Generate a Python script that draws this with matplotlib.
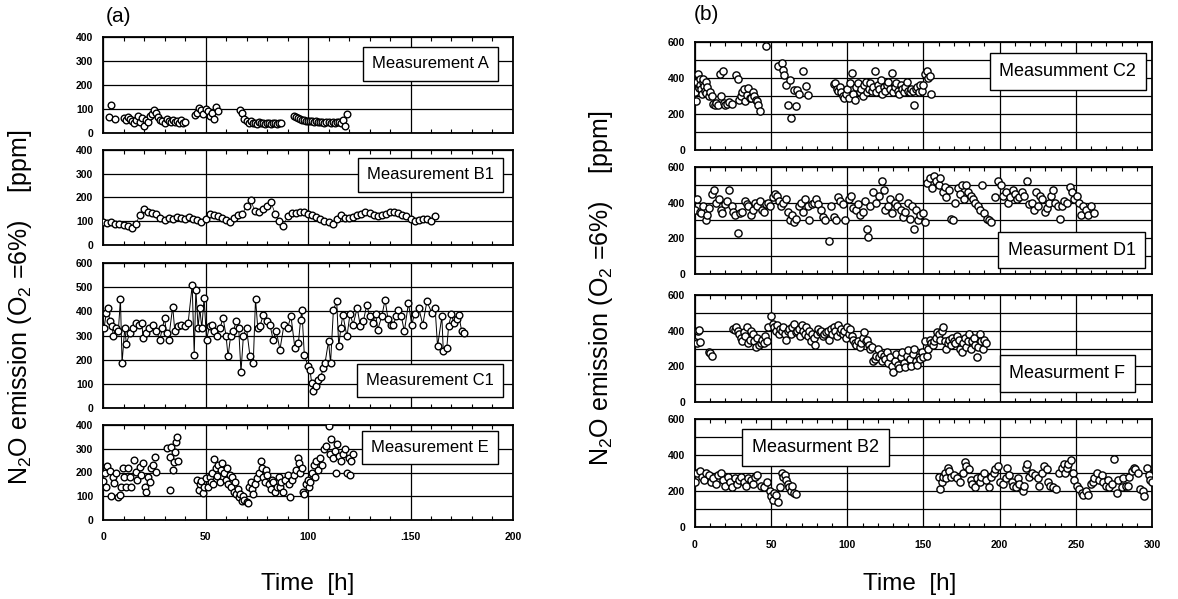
import matplotlib.pyplot as plt
from matplotlib.ticker import MultipleLocator

plt.rcParams['font.family'] = ['Liberation Sans', 'DejaVu Sans']
plt.rcParams['mathtext.fontset'] = 'custom'
plt.rcParams['mathtext.rm'] = 'Liberation Sans'
plt.rcParams['mathtext.default'] = 'regular'

# ---------------- panel (a) data: time [h], N2O [ppm] ----------------
a_t = [3, 4, 6, 10, 11, 12, 13, 14, 15, 16,
       17, 18, 19, 20, 21, 22, 23, 24, 25, 26,
       27, 28, 29, 30, 31, 32, 33, 34, 35, 36,
       37, 38, 39, 40, 45, 46, 47, 48, 49, 50,
       51, 52, 53, 54, 55, 56, 67, 68, 69, 70,
       71, 72, 73, 74, 75, 76, 77, 78, 79, 80,
       81, 82, 83, 84, 85, 86, 87, 93, 94, 95,
       96, 97, 98, 99, 100, 101, 102, 103, 104, 105,
       106, 107, 108, 109, 110, 111, 112, 113, 114, 115,
       116, 117, 118, 119]
a_v = [65, 115, 58, 62, 55, 68, 60, 50, 40, 55,
       72, 45, 62, 28, 55, 45, 70, 80, 95, 85,
       65, 55, 48, 42, 60, 50, 45, 55, 45, 50,
       40, 55, 42, 45, 75, 85, 105, 95, 80, 100,
       90, 70, 85, 60, 110, 90, 95, 82, 60, 48,
       42, 50, 40, 42, 38, 45, 40, 42, 38, 40,
       42, 38, 40, 42, 38, 40, 42, 70, 65, 62,
       60, 55, 55, 52, 50, 48, 50, 45, 48, 45,
       44, 46, 43, 45, 44, 42, 45, 43, 44, 45,
       40, 55, 28, 80]

b1_t = [0, 2, 4, 6, 8, 10, 12, 14, 16, 18,
        20, 22, 24, 26, 28, 30, 32, 34, 36, 38,
        40, 42, 44, 46, 48, 50, 52, 54, 56, 58,
        60, 62, 64, 66, 68, 70, 72, 74, 76, 78,
        80, 82, 84, 86, 88, 90, 92, 94, 96, 98,
        100, 102, 104, 106, 108, 110, 112, 114, 116, 118,
        120, 122, 124, 126, 128, 130, 132, 134, 136, 138,
        140, 142, 144, 146, 148, 150, 152, 154, 156, 158,
        160, 162]
b1_v = [95, 92, 95, 90, 88, 85, 78, 72, 90, 125,
        150, 140, 135, 130, 115, 105, 115, 110, 118, 112,
        108, 118, 110, 105, 95, 110, 130, 128, 120, 115,
        105, 98, 112, 125, 130, 165, 190, 145, 140, 150,
        165, 180, 130, 100, 80, 120, 135, 135, 138, 140,
        130, 125, 118, 110, 100, 95, 88, 110, 125, 115,
        112, 118, 125, 130, 140, 135, 125, 120, 125, 130,
        138, 140, 135, 128, 120, 110, 102, 105, 110, 108,
        100, 120]

c1_t = [0.5, 1.6, 2.4, 3.3, 4.4, 5, 6.5, 7.5, 8.5, 9.3,
        10.6, 11.4, 13, 14.5, 16, 17.5, 19, 19.5, 21, 22.5,
        24.4, 26, 27.7, 29, 30, 31, 32, 34, 35, 36.5,
        38, 40, 41.5, 43.5, 44.5, 45.3, 46.4, 47.2, 48.2, 49.3,
        50.5, 52, 53, 54.2, 55.4, 57, 58.6, 60, 61, 62.3,
        63.5, 65, 66.2, 67.3, 68.5, 70, 71.7, 73.3, 74.4, 75.5,
        76.5, 78.2, 79.8, 81.4, 83, 84.5, 86.3, 88.3, 90, 91.7,
        93.6, 95.3, 96.4, 97, 98.2, 100, 101, 101.8, 102.6, 104,
        105, 106.2, 107.5, 108.3, 110, 111, 112.4, 114, 115, 116,
        117, 119, 120.5, 122, 124, 125.5, 127, 128.7, 130, 131.5,
        133, 134, 136, 137.6, 139, 140.5, 141.7, 143, 144, 145.5,
        147, 149, 150.6, 152, 154, 156, 158, 160.4, 162, 163.2,
        165.3, 166, 167.7, 168.6, 170, 171, 172.5, 173.5, 175, 176]
c1_v = [330, 393, 414, 359, 338, 300, 331, 320, 452, 186,
        330, 266, 310, 330, 350, 345, 350, 290, 310, 330,
        345, 320, 283, 330, 372, 310, 283, 420, 320, 340,
        345, 340, 350, 508, 220, 490, 331, 414, 330, 455,
        283, 340, 345, 320, 296, 330, 372, 300, 214, 300,
        317, 359, 330, 149, 300, 331, 214, 186, 452, 330,
        338, 386, 360, 345, 283, 320, 241, 345, 330, 380,
        248, 269, 365, 407, 221, 172, 156, 103, 69, 90,
        117, 130, 165, 186, 276, 186, 407, 441, 255, 330,
        386, 296, 390, 345, 414, 340, 360, 428, 380, 350,
        390, 324, 380, 448, 370, 345, 345, 380, 407, 380,
        317, 434, 345, 390, 414, 345, 441, 393, 414, 255,
        379, 234, 248, 340, 390, 352, 370, 386, 317, 310]

e_t = [0, 0.8, 1.6, 2.1, 3.3, 3.7, 4.9, 5.4, 6.5, 7.3,
       8.1, 8.6, 9.8, 10.3, 11.1, 12.2, 13, 13.8, 15, 16,
       16.8, 17.9, 18.7, 19.5, 20.4, 21.2, 22, 22.8, 23.6, 24.4,
       25.2, 26, 31, 32.7, 32.6, 33.4, 34, 34.7, 35.2, 35.6,
       36.2, 36.6, 46, 47, 47.5, 48, 49, 49.5, 50, 51,
       52, 52.5, 53, 53.5, 54, 55, 55.5, 56, 57, 57.5,
       58, 59, 60, 60.5, 61, 62, 62.5, 63, 64, 64.5,
       65, 66, 66.5, 67, 68, 68.5, 69, 70, 70.5, 71,
       72, 72.5, 73, 74, 75, 76, 77, 77.5, 78, 79,
       79.5, 80, 81, 82, 82.5, 83, 84, 85, 86, 86.5,
       87, 88, 89, 90, 90.5, 91, 92, 93, 94, 95,
       95.5, 96, 97, 97.5, 98, 99, 100, 100.5, 101, 102,
       103, 103.5, 104, 105, 106, 107, 108, 109, 110, 110.5,
       111, 112, 113, 113.5, 114, 115, 116, 117, 118, 119,
       120, 120.5, 121, 122]
e_v = [165, 196, 140, 229, 206, 101, 182, 154, 196, 95,
       105, 138, 218, 182, 140, 218, 182, 140, 253, 204,
       168, 225, 189, 239, 140, 119, 182, 161, 218, 232,
       267, 204, 302, 126, 267, 309, 210, 246, 288, 330,
       351, 250, 170, 125, 150, 165, 115, 140, 175, 140,
       180, 160, 200, 150, 255, 220, 185, 230, 160, 210,
       240, 200, 170, 220, 150, 190, 140, 180, 120, 160,
       110, 130, 95, 110, 80, 100, 85, 75, 70, 140,
       160, 130, 110, 150, 175, 200, 250, 220, 180, 160,
       210, 190, 150, 130, 170, 160, 120, 140, 180, 140,
       160, 120, 170, 190, 150, 95, 170, 190, 210, 260,
       240, 200, 220, 120, 110, 150, 170, 140, 160, 200,
       230, 180, 250, 210, 260, 230, 300, 310, 395, 280,
       340, 260, 290, 200, 320, 270, 250, 280, 300, 200,
       260, 190, 250, 280]

# ---------------- panel (b) data ----------------
c2_t = [0, 0.5, 1.2, 1.8, 2.5, 3, 3.5, 4, 4.5, 5,
        5.5, 6, 6.5, 7, 7.5, 8, 9, 10, 11, 12,
        13, 14, 15, 16.4, 17, 18.6, 19, 20, 21, 22,
        24, 27, 28, 29, 30, 31, 32, 33, 34, 35,
        36, 37, 38, 39, 40, 40.5, 41.5, 42.7, 46.4, 54.7,
        56.9, 58, 58.4, 59.7, 61.3, 62.4, 62.8, 65, 66, 67,
        68, 71, 72.9, 74.4, 91, 92, 93, 94, 95, 96,
        97, 98, 99, 100, 101, 102, 103, 104, 105, 106,
        107, 108, 109, 110, 111, 112, 113, 114, 115, 116,
        117, 118, 119, 120, 121, 122, 123, 124, 125, 126,
        127, 128, 129, 130, 131, 132, 133, 134, 135, 136,
        137, 138, 139, 140, 141, 142, 143, 144, 145, 146,
        147, 148, 149, 150, 151, 152, 153, 154, 155]
c2_v = [325, 270, 380, 420, 345, 395, 360, 340, 310, 380,
        395, 355, 330, 375, 315, 350, 300, 320, 300, 255,
        250, 260, 250, 420, 300, 437, 260, 250, 255, 265,
        255, 418, 396, 280, 300, 320, 340, 275, 305, 345,
        288, 290, 325, 300, 280, 270, 250, 214, 576, 465,
        483, 446, 418, 362, 250, 390, 177, 335, 242, 335,
        310, 437, 353, 307, 365, 370, 340, 330, 350, 320,
        300, 290, 310, 340, 290, 370, 430, 310, 280, 350,
        370, 320, 340, 300, 360, 380, 320, 340, 370, 330,
        350, 437, 320, 360, 340, 390, 310, 350, 330, 360,
        380, 340, 430, 320, 350, 370, 330, 310, 360, 340,
        320, 350, 380, 330, 320, 340, 330, 250, 340, 350,
        320, 360, 330, 360, 420, 440, 400, 410, 310]

d1_t = [0, 1.5, 3, 4, 5.5, 7, 8, 9.5,
        11, 12.5, 14, 15.5, 17, 18, 19.5,
        21, 22.5, 24, 25, 26.5, 28, 29.5,
        31, 32.5, 34, 35, 36.5, 38, 39.5,
        41, 42.5, 44, 45, 46.5, 48, 49.5,
        51, 52.5, 54, 55, 56.5, 58, 59.5,
        61, 62.5, 64, 65, 66.5, 68, 69.5,
        71, 72.5, 74, 75, 76.5, 78, 79.5,
        81, 82.5, 84, 85.5, 88, 89.5,
        91, 92.5, 94, 95.5, 97, 98.5,
        101, 102.5, 104, 105.5, 107, 108.5,
        110, 111.5, 113, 113.5, 115, 117, 118.5,
        121, 122.5, 124, 125, 126.5, 128, 129.5,
        131, 132.5, 134, 135, 136.5, 138, 139.5,
        141, 142.5, 144, 145, 146.5, 148, 149.5,
        151, 152.5, 154, 155.5, 157, 158.5,
        160, 161, 162.5, 164, 165, 166.5, 168, 169.5,
        171, 172.5, 174, 175, 176.5, 178, 179.5,
        181, 182.5, 184, 185.5, 187, 188.5,
        190, 191.5, 193, 194.5, 197,
        199, 201, 202.5, 204, 205.5, 207, 208.5,
        210, 211.5, 213, 214.5, 216, 218, 219.5,
        221, 222.5, 224, 225, 226.5, 228, 229.5,
        231, 232.5, 234, 235, 236.5, 238, 239.5,
        241, 242.5, 244, 246, 247.5, 249,
        250.5, 252, 253.5, 255, 256.5, 258, 260, 262]
d1_v = [360, 420, 350, 340, 380, 300, 330, 370,
        450, 470, 400, 420, 360, 340, 390,
        410, 470, 380, 350, 330, 228, 340,
        350, 410, 390, 380, 330, 360, 400,
        380, 410, 360, 350, 390, 400, 380,
        430, 450, 440, 410, 380, 400, 420,
        350, 300, 330, 290, 310, 380, 400,
        350, 420, 380, 300, 390, 400, 420,
        390, 360, 320, 300, 185, 380,
        320, 300, 430, 410, 390, 300,
        420, 440, 370, 360, 390, 330,
        350, 410, 250, 210, 380, 460, 400,
        440, 520, 470, 360, 380, 420, 340,
        400, 380, 430, 360, 320, 350, 400,
        310, 380, 250, 360, 300, 330, 340,
        290, 510, 540, 480, 550, 520,
        500, 540, 460, 490, 430, 470, 310, 300,
        400, 480, 450, 500, 420, 500, 460,
        440, 420, 400, 380, 360, 500,
        340, 310, 300, 290, 430,
        520, 500, 440, 460, 400, 430, 470,
        450, 420, 430, 460, 440, 520, 390,
        400, 360, 460, 380, 440, 420, 350,
        370, 400, 440, 470, 400, 380, 310,
        380, 410, 400, 490, 460, 420,
        440, 400, 330, 380, 360, 330, 380, 340]

f_t = [0, 1, 2, 2.5, 3, 9, 10, 11,
       25, 26, 27, 28, 29, 30, 31, 32, 33, 34, 35, 36,
       37, 38, 39, 40, 41, 42, 43, 44, 45, 46, 47, 48,
       50, 51, 52, 53, 54, 55, 56, 57, 58, 59, 60, 61,
       62, 63, 64, 65, 66, 67, 68, 69, 70, 71, 72, 73,
       74, 75, 76, 77, 78, 79, 80, 81, 82, 83, 84, 85,
       86, 87, 88, 89, 90, 91, 92, 93, 94, 95, 96, 97,
       98, 99, 100, 101, 102, 103, 104, 105, 106, 107, 108, 109,
       110, 111, 112, 113, 114, 115, 116, 117, 118, 119, 120, 121,
       122, 123, 124, 125, 126, 127, 128, 129, 130, 131, 132, 133,
       134, 135, 136, 137, 138, 139, 140, 141, 142, 143, 144, 145,
       146, 147, 148, 149, 150, 151, 152, 153, 154, 155, 156, 157,
       158, 159, 160, 161, 162, 163, 164, 165, 166, 167, 168, 169,
       170, 171, 172, 173, 174, 175, 176, 177, 178, 179, 180, 181,
       182, 183, 184, 185, 186, 187, 188, 189, 190, 191]
f_v = [335, 330, 400, 405, 335, 280, 275, 260,
       410, 405, 420, 400, 380, 360, 340, 390, 370, 420, 330, 350,
       400, 380, 340, 310, 360, 320, 330, 350, 330, 370, 340, 420,
       480, 440, 420, 400, 430, 380, 410, 400, 420, 380, 350, 400,
       410, 380, 420, 440, 390, 400, 410, 370, 430, 400, 380, 420,
       370, 400, 340, 380, 360, 320, 380, 410, 390, 400, 370, 380,
       390, 400, 350, 410, 380, 420, 400, 370, 430, 390, 410, 380,
       400, 360, 420, 380, 410, 370, 350, 330, 320, 340, 310, 330,
       360, 390, 340, 350, 320, 300, 310, 230, 240, 260, 300, 250,
       270, 230, 260, 240, 280, 220, 250, 200, 170, 230, 270, 210,
       190, 250, 280, 220, 195, 260, 290, 240, 200, 270, 300, 230,
       210, 250, 240, 280, 250, 340, 260, 300, 350, 330, 320, 340,
       360, 390, 380, 350, 400, 420, 340, 300, 330, 350, 320, 360,
       340, 330, 370, 350, 300, 280, 330, 360, 310, 340, 380, 300,
       340, 360, 320, 250, 310, 380, 340, 300, 350, 330]

b2_t = [0, 1.5, 3, 4.5, 6, 7.5, 9, 10.5, 12, 13.5,
        15, 17, 18.5, 20, 21.5, 23, 24.5, 26, 27.5, 29,
        30.5, 32, 33.5, 35, 36.5, 38, 39.5, 41, 43, 45,
        47, 49, 50, 51, 52, 53, 54.5, 56, 57, 58,
        59, 60, 61, 62, 63, 64, 65, 66,
        160, 161, 162, 163, 164, 165, 166, 167, 168, 170,
        172, 174, 176, 177, 178, 180, 181, 182, 184, 185,
        187, 188, 190, 191, 193, 194, 196, 197, 199, 200,
        202, 204, 205, 206, 208, 209, 211, 212, 213, 215,
        216, 217, 218, 219, 221, 223, 225, 226, 228, 229,
        231, 232, 233, 235, 237, 239, 241, 242, 243, 244,
        245, 247, 248, 249, 251, 252, 254, 255, 257, 258,
        260, 261, 262, 264, 265, 267, 268, 270, 271, 272,
        274, 275, 277, 278, 280, 281, 283, 284, 285, 287,
        288, 289, 291, 292, 294, 295, 297, 298, 299, 300]
b2_v = [250, 300, 310, 280, 260, 300, 290, 250, 270, 240,
        290, 300, 260, 230, 280, 250, 220, 270, 240, 260,
        280, 250, 230, 270, 260, 240, 280, 290, 230, 220,
        250, 200, 170, 150, 190, 180, 140, 220, 300, 280,
        290, 260, 240, 220, 200, 230, 190, 185,
        280, 210, 250, 280, 300, 270, 330, 310, 280, 290,
        270, 250, 300, 360, 340, 320, 260, 240, 220, 270,
        250, 280, 300, 260, 220, 280, 300, 320, 340, 250,
        240, 270, 330, 290, 250, 230, 220, 270, 240, 200,
        230, 330, 350, 280, 300, 290, 270, 230, 300, 340,
        320, 250, 230, 220, 210, 300, 330, 350, 300, 330,
        350, 370, 300, 260, 230, 210, 190, 180, 200, 180,
        240, 250, 270, 300, 260, 290, 250, 230, 260, 220,
        240, 380, 190, 260, 220, 270, 230, 230, 280, 310,
        330, 320, 300, 210, 200, 170, 330, 290, 260, 250]

W, H = 1178, 599
fig = plt.figure(figsize=(W / 100, H / 100), dpi=100)


def add_box(x0, x1, ytop, ybot):
    # pixel box -> figure fraction
    return fig.add_axes([x0 / W, 1 - ybot / H, (x1 - x0) / W, (ybot - ytop) / H])


def style(ax, xmax, ymax, yticklabels, xticklabels=None):
    ax.set_xlim(0, xmax)
    ax.set_ylim(0, ymax)
    ax.set_axisbelow(True)
    ax.xaxis.set_major_locator(MultipleLocator(50))
    ax.xaxis.set_minor_locator(MultipleLocator(10))
    ax.set_yticks(range(0, ymax + 1, 100), labels=yticklabels)
    ax.grid(True, which='major', color='black', lw=0.9)
    ax.tick_params(axis='x', which='minor', direction='in', top=True, bottom=True, length=3, width=0.8)
    ax.tick_params(axis='x', which='major', length=0, pad=9, labelsize=7.5)
    ax.tick_params(axis='y', length=0, pad=7, labelsize=7.5)
    if xticklabels is None:
        ax.tick_params(axis='x', labelbottom=False)
    else:
        ax.set_xticks(range(0, xmax + 1, 50), labels=xticklabels)
    for lab in ax.get_yticklabels() + ax.get_xticklabels():
        lab.set_fontweight('bold')
    for sp in ax.spines.values():
        sp.set_linewidth(1.3)


def label(ax, text, x, y, size):
    ax.text(x, y, text, transform=ax.transAxes, ha='center', va='center', fontsize=size, zorder=5,
            bbox=dict(boxstyle='square,pad=0.55', fc='white', ec='black', lw=1.0))


mk_a = dict(marker='o', ms=4.8, mfc='white', mec='black', mew=1.0, zorder=3)
mk_b = dict(marker='o', ms=5.2, mfc='white', mec='black', mew=1.0, zorder=3)

lab4 = ['0', '100', '200', '300', '400']
lab6 = ['0', '100', '200', '300', '400', '500', '600']
lab6b = ['0', '', '200', '', '400', '', '600']

# panel (a)
ax = add_box(103, 513, 37, 133)
style(ax, 200, 400, lab4)
ax.plot(a_t, a_v, ls='none', **mk_a)
label(ax, 'Measurement A', 0.798, 0.72, 12)

ax = add_box(103, 513, 150, 245)
style(ax, 200, 400, lab4)
ax.plot(b1_t, b1_v, ls='-', lw=0.5, color='black', **mk_a)
label(ax, 'Measurement B1', 0.798, 0.737, 12)

ax = add_box(103, 513, 263, 408)
style(ax, 200, 600, lab6)
ax.plot(c1_t, c1_v, ls='-', lw=0.7, color='black', **mk_a)
label(ax, 'Measurement C1', 0.798, 0.19, 12)

ax = add_box(103, 513, 425, 520)
style(ax, 200, 400, lab4, ['0', '50', '100', '.150', '200'])
ax.plot(e_t, e_v, ls='none', **mk_a)
label(ax, 'Measurement E', 0.798, 0.76, 12)

# panel (b)
ax = add_box(695, 1152, 42, 150)
style(ax, 300, 600, lab6b)
ax.plot(c2_t, c2_v, ls='none', **mk_b)
label(ax, 'Measumment C2', 0.816, 0.725, 13)

ax = add_box(695, 1152, 167, 274)
style(ax, 300, 600, lab6b)
ax.plot(d1_t, d1_v, ls='none', **mk_b)
label(ax, 'Measurment D1', 0.824, 0.224, 13)

ax = add_box(695, 1152, 295, 402)
style(ax, 300, 600, lab6b)
ax.plot(f_t, f_v, ls='none', **mk_b)
label(ax, 'Measurment F', 0.815, 0.268, 13)

ax = add_box(695, 1152, 419, 527)
style(ax, 300, 600, lab6b, ['0', '50', '100', '150', '200', '250', '300'])
ax.plot(b2_t, b2_v, ls='none', **mk_b)
label(ax, 'Measurment B2', 0.264, 0.739, 13)

# shared texts
ylab = r'N$_2$O emission (O$_2$ =6%)    [ppm]'
fig.text(20 / W, 1 - 307 / H, ylab, rotation=90, ha='center', va='center', fontsize=18)
fig.text(601 / W, 1 - 288 / H, ylab, rotation=90, ha='center', va='center', fontsize=18)
fig.text(106 / W, 1 - 17 / H, '(a)', ha='left', va='center', fontsize=15)
fig.text(694 / W, 1 - 15 / H, '(b)', ha='left', va='center', fontsize=15)
fig.text(308 / W, 1 - 584 / H, 'Time  [h]', ha='center', va='center', fontsize=17.5)
fig.text(910 / W, 1 - 584 / H, 'Time  [h]', ha='center', va='center', fontsize=17.5)

fig.savefig('out.png', dpi=100)
